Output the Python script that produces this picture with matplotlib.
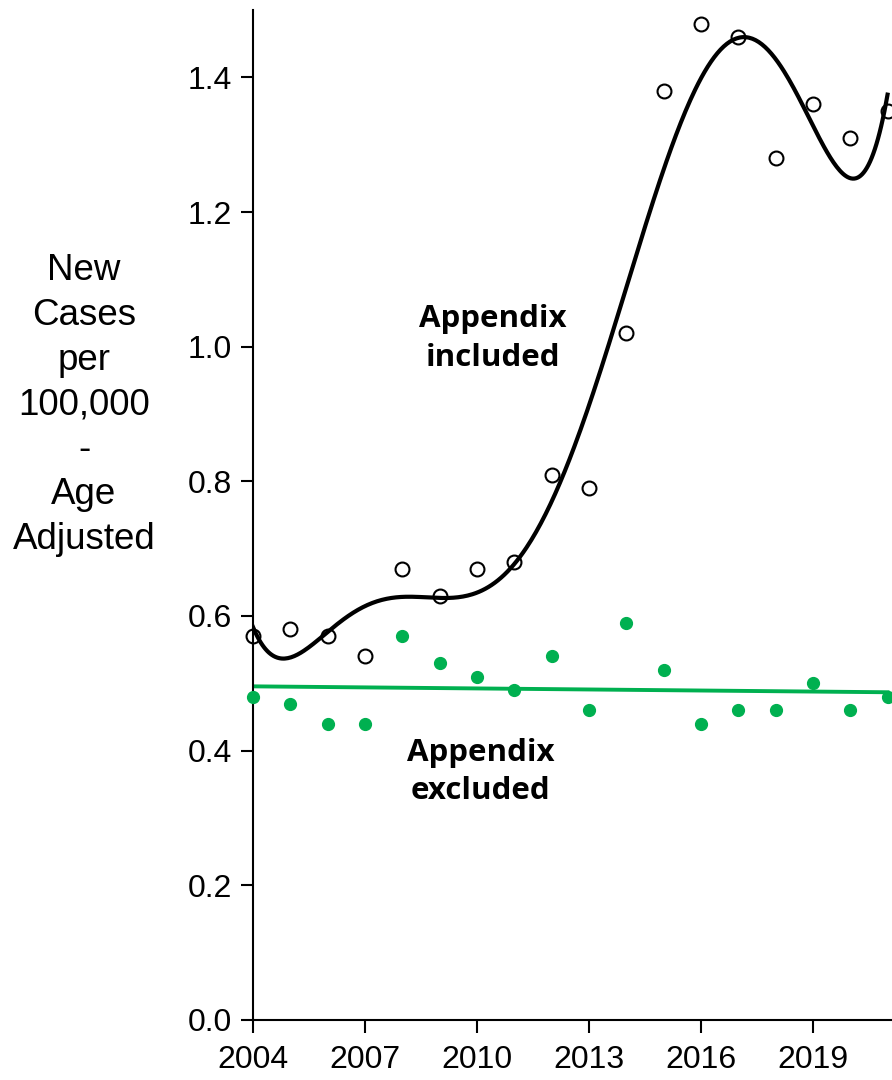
import numpy as np
import matplotlib.pyplot as plt

plt.rcParams['font.family'] = ['Liberation Sans', 'DejaVu Sans']

# Data
years = np.arange(2004, 2022)
included = [0.57, 0.58, 0.57, 0.54, 0.67, 0.63, 0.67, 0.68, 0.81, 0.79,
            1.02, 1.38, 1.48, 1.46, 1.28, 1.36, 1.31, 1.35]
excluded = [0.48, 0.47, 0.44, 0.44, 0.57, 0.53, 0.51, 0.49, 0.54, 0.46,
            0.59, 0.52, 0.44, 0.46, 0.46, 0.50, 0.46, 0.48]
x_ticks = [2004, 2007, 2010, 2013, 2016, 2019]
y_ticks = [0.0, 0.2, 0.4, 0.6, 0.8, 1.0, 1.2, 1.4]

green = '#00B050'

fig = plt.figure(figsize=(8.92, 10.8), dpi=100)
ax = fig.add_axes([0.2836, 0.0556, 0.7164, 0.9351])

# trend lines (Excel style: poly order 6 and linear)
t = years - 2004
xs = np.linspace(0, 17, 400)
p6 = np.polyfit(t, included, 6)
ax.plot(xs + 2004, np.polyval(p6, xs), color='black', lw=3, zorder=2)
p1 = np.polyfit(t, excluded, 1)
ax.plot(xs + 2004, np.polyval(p1, xs), color=green, lw=2.8, zorder=2)

ax.plot(years, included, 'o', mfc='none', mec='black', mew=1.5, ms=10, zorder=3, clip_on=False)
ax.plot(years, excluded, 'o', color=green, ms=8.5, zorder=3, clip_on=False)

bold_font = dict(fontsize=22.5, fontweight='bold', linespacing=1.37,
                 family=['Open Sans', 'DejaVu Sans'])
ax.text(2010.43, 1.0125, 'Appendix\nincluded', ha='center', va='center', **bold_font)
ax.text(2010.1, 0.368, 'Appendix\nexcluded', ha='center', va='center', **bold_font)

ax.set_xlim(2004, 2021.12)
ax.set_ylim(0, 1.5)
ax.set_xticks(x_ticks)
ax.set_yticks(y_ticks)
ax.set_yticklabels([f'{v:.1f}' for v in y_ticks])
ax.tick_params(axis='both', direction='out', length=9, width=1.5, labelsize=23)
ax.tick_params(axis='x', pad=9)
ax.tick_params(axis='y', pad=6)
for s in ['top', 'right']:
    ax.spines[s].set_visible(False)
for s in ['left', 'bottom']:
    ax.spines[s].set_linewidth(1.5)

fig.text(84 / 892, 1 - 405 / 1080, 'New\nCases\nper\n100,000\n-\nAge\nAdjusted',
         ha='center', va='center', fontsize=26.5, linespacing=1.36)

fig.savefig('out.png', dpi=100)
